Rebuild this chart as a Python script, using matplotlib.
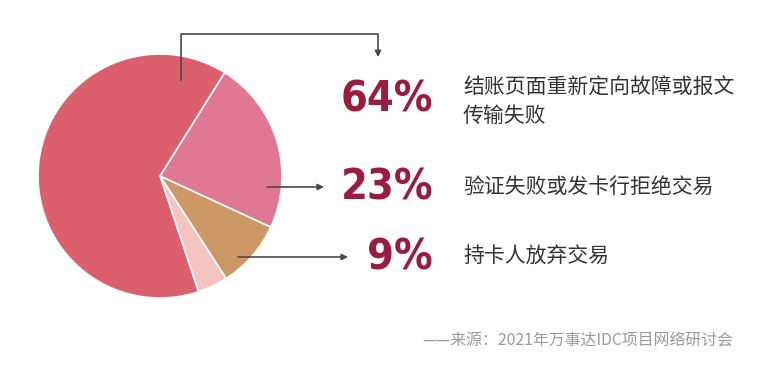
import matplotlib
matplotlib.use("Agg")
import matplotlib.pyplot as plt

plt.rcParams['font.family'] = ['Noto Sans CJK SC', 'DejaVu Sans']

# data
shares = [23, 9, 4, 64]
colors = ['#e07893', '#cd9866', '#f5c4c0', '#dc5f6e']
pct_labels = ['64%', '23%', '9%']
descriptions = ['结账页面重新定向故障或报文\n传输失败', '验证失败或发卡行拒绝交易', '持卡人放弃交易']
source = '——来源：2021年万事达IDC项目网络研讨会'

W, H = 775, 380
fig = plt.figure(figsize=(W / 100, H / 100), dpi=100)
ax = fig.add_axes([0, 0, 1, 1])

ax.pie(shares, colors=colors, startangle=58, counterclock=False,
       center=(160, H - 176), radius=122,
       wedgeprops=dict(edgecolor='white', linewidth=1.2))
ax.set_xlim(0, W)
ax.set_ylim(0, H)
ax.set_aspect('equal')
ax.axis('off')

line_c = '#4a4a4a'
# elbow arrow to 64%
ax.plot([181, 181, 378, 378], [H - 80, H - 34, H - 34, H - 52], color=line_c, lw=1.2)
ax.annotate('', xy=(378, H - 60), xytext=(378, H - 50),
            arrowprops=dict(arrowstyle='-|>', color=line_c, lw=1.2, mutation_scale=9))
# straight arrows
for x0, x1, y in [(267, 324, 187), (238, 348, 257)]:
    ax.annotate('', xy=(x1, H - y), xytext=(x0, H - y),
                arrowprops=dict(arrowstyle='-|>', color=line_c, lw=1.2, mutation_scale=9,
                                shrinkA=0, shrinkB=0))

pct_y = [100, 187, 257]
for lab, y in zip(pct_labels, pct_y):
    ax.text(433, H - y, lab, ha='right', va='center', fontsize=31,
            fontweight='bold', fontstretch='condensed', color='#9a1c3e',
            family=['DejaVu Sans'])

desc_y = [102, 187, 257]
for d, y in zip(descriptions, desc_y):
    ax.text(463, H - y, d, ha='left', va='center', fontsize=15,
            color='#333333', linespacing=1.4)

ax.text(422, H - 341, source, ha='left', va='center', fontsize=11.4, color='#9a9a9a')

fig.savefig('out.png', dpi=100)
